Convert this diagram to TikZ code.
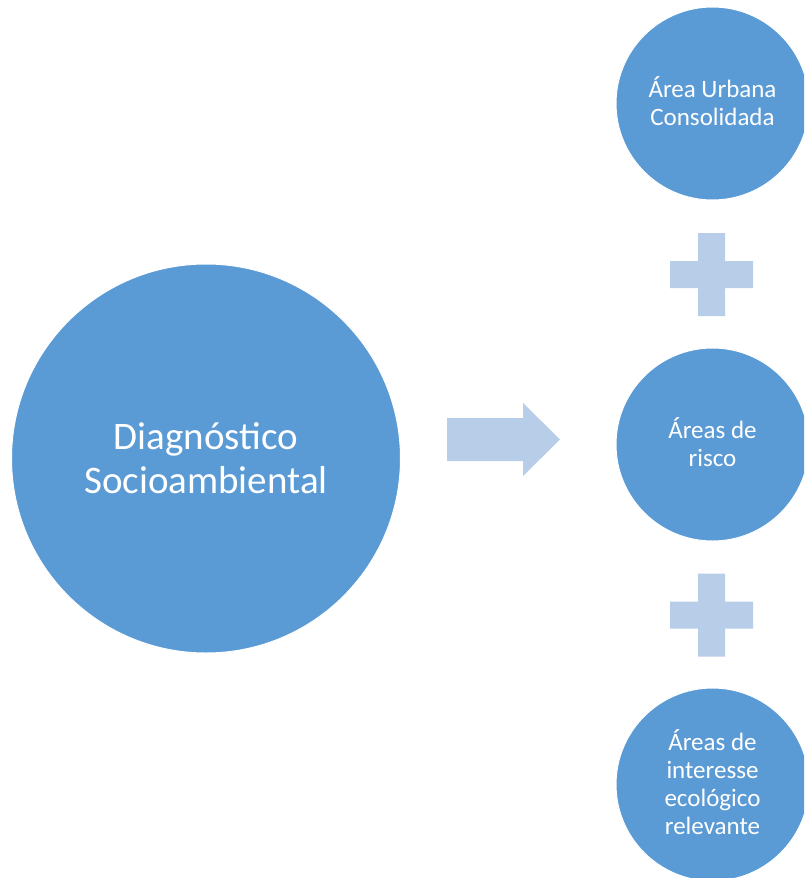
\documentclass[tikz,border=0pt]{standalone}
\usepackage{fontspec}
\setmainfont{Carlito}
\definecolor{cblue}{HTML}{5B9BD5}
\definecolor{clight}{HTML}{B7CDE8}
\begin{document}
\begin{tikzpicture}[x=1pt,y=-1pt,
  bigc/.style={circle,fill=cblue,draw=white,line width=1pt,minimum size=389pt,inner sep=0pt,text=white,align=center,font=\fontsize{39}{44}\selectfont},
  smallc/.style={circle,fill=cblue,draw=white,line width=1pt,minimum size=193pt,inner sep=0pt},
  smalltext/.style={text=white,align=center,inner sep=0pt,font=\fontsize{25}{28}\selectfont},
  shapefill/.style={fill=clight,draw=none}]
\useasboundingbox (0,0) rectangle (804,878);
\clip (0,0) rectangle (804,878);
\fill[white] (0,0) rectangle (804,878);
\node[bigc] (diag) at (206,458.5) {Diagnóstico\\Socioambiental};
\node[smallc] (urb) at (712.5,103.5) {};
\node[smallc] (risco) at (712.5,444.5) {};
\node[smallc] (eco) at (712.5,784.5) {};
\node[smalltext] (urbt) at ([yshift=2.5pt]urb.center) {Área Urbana\\Consolidada};
\node[smalltext] (riscot) at ([yshift=2.5pt]risco.center) {Áreas de\\risco};
\node[smalltext] (ecot) at ([yshift=2.5pt]eco.center) {Áreas de\\interesse\\ecológico\\relevante};
% arrow
\fill[shapefill] (447,418) -- (523,418) -- (523,403) -- (560,439.5) -- (523,476) -- (523,461) -- (447,461) -- cycle;
% plus signs
\coordinate (p1) at (711.5,274.5);
\coordinate (p2) at (711.5,615);
\foreach \p in {p1,p2}{
  \fill[shapefill] ([shift={(-13.5,-41.5)}]\p) -- ([shift={(13.5,-41.5)}]\p) -- ([shift={(13.5,-13.5)}]\p) -- ([shift={(41.5,-13.5)}]\p) -- ([shift={(41.5,13.5)}]\p) -- ([shift={(13.5,13.5)}]\p) -- ([shift={(13.5,41.5)}]\p) -- ([shift={(-13.5,41.5)}]\p) -- ([shift={(-13.5,13.5)}]\p) -- ([shift={(-41.5,13.5)}]\p) -- ([shift={(-41.5,-13.5)}]\p) -- ([shift={(-13.5,-13.5)}]\p) -- cycle;
}
\end{tikzpicture}
\end{document}
